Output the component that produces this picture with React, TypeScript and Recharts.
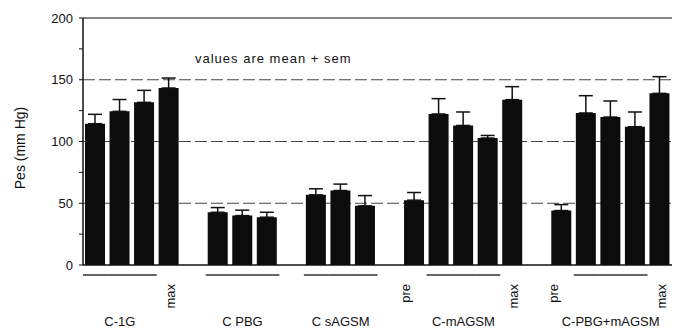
import React from 'react';
import { BarChart, Bar, XAxis, YAxis, CartesianGrid, ErrorBar, ReferenceLine, Customized } from 'recharts';

const groups = ['C-1G', 'C PBG', 'C sAGSM', 'C-mAGSM', 'C-PBG+mAGSM'];
const kinds = [
  ['1', '2', '3', 'max'],
  ['1', '2', '3'],
  ['1', '2', '3'],
  ['pre', '1', '2', '3', 'max'],
  ['pre', '1', '2', '3', 'max'],
];
const means = [
  [114.4, 124.4, 131.7, 143.3],
  [42.7, 40.0, 38.7],
  [56.8, 60.3, 47.9],
  [52.5, 122.3, 113.0, 102.8, 133.9],
  [44.1, 123.1, 119.8, 112.0, 139.0],
];
const sems = [
  [7.6, 9.6, 9.7, 8.1],
  [3.8, 4.4, 4.0],
  [4.9, 5.2, 8.3],
  [6.2, 12.4, 10.9, 2.1, 10.5],
  [4.8, 14.0, 13.0, 11.9, 13.5],
];
const yTicks = [0, 25, 50, 75, 100, 125, 150, 175, 200];

type Row = { key: string; group: string; kind: string; value: number | null; err: number[] | null };

const rows: Row[] = [];
groups.forEach((g, gi) => {
  kinds[gi].forEach((k, ki) => {
    rows.push({ key: `${g}-${k}`, group: g, kind: k, value: means[gi][ki], err: [0, sems[gi][ki]] });
  });
  if (gi < groups.length - 1) rows.push({ key: `gap-${gi}`, group: '', kind: 'gap', value: null, err: null });
});

const FONT = '"Liberation Sans", Arial, Helvetica, sans-serif';
const INK = '#111';

const XTick = (props: any) => {
  const { x, y, payload } = props;
  const row = rows[payload.index];
  if (!row || row.kind === 'gap') return null;
  const half = 12.3;
  return (
    <g>
      {['1', '2', '3'].includes(row.kind) && (
        <line x1={x - half} x2={x + half} y1={y + 10} y2={y + 10} stroke={INK} strokeWidth={1.3} />
      )}
      {row.kind === '2' && (
        <text x={x} y={y + 61} textAnchor="middle" fontFamily={FONT} fontSize={13} fill={INK}>
          {row.group}
        </text>
      )}
      {(row.kind === 'pre' || row.kind === 'max') && (
        <text
          x={row.kind === 'max' ? x + 6 : x - 4}
          y={y + 19}
          textAnchor="end"
          transform={`rotate(-90 ${row.kind === 'max' ? x + 6 : x - 4} ${y + 19})`}
          fontFamily={FONT}
          fontSize={13}
          fill={INK}
        >
          {row.kind}
        </text>
      )}
    </g>
  );
};

const YTick = (props: any) => {
  const { x, y, payload } = props;
  if (payload.value % 50 !== 0) return null;
  return (
    <text x={x} y={y + 4.5} textAnchor="end" fontFamily={FONT} fontSize={13} fill={INK}>
      {payload.value}
    </text>
  );
};

export default function App() {
  return (
    <div style={{ position: 'absolute', left: 0, top: 0, background: '#fff' }}>
      <BarChart width={685} height={330} data={rows} margin={{ top: 18, right: 13, left: 0, bottom: 0 }}>
        <CartesianGrid horizontal vertical={false} stroke="#444" strokeDasharray="12 4" horizontalValues={[50, 100, 150]} />
        <ReferenceLine y={200} stroke={INK} strokeWidth={1.2} />
        <XAxis
          dataKey="key"
          interval={0}
          tickLine={false}
          tickSize={0}
          tickMargin={0}
          height={65}
          axisLine={{ stroke: INK, strokeWidth: 1.5 }}
          tick={<XTick />}
        />
        <YAxis
          yAxisId="right"
          orientation="right"
          width={0}
          domain={[0, 200]}
          tick={false}
          tickLine={false}
          axisLine={{ stroke: INK, strokeWidth: 1.2 }}
        />
        <YAxis
          domain={[0, 200]}
          ticks={yTicks}
          width={83}
          tickSize={4}
          tickMargin={6}
          tickLine={{ stroke: INK }}
          axisLine={{ stroke: INK, strokeWidth: 1.5 }}
          tick={<YTick />}
        />
        <Bar dataKey="value" fill="#0c0c0c" barSize={20} isAnimationActive={false}>
          <ErrorBar dataKey="err" direction="y" width={7} stroke={INK} strokeWidth={1.5} />
        </Bar>
        <Customized
          component={() => (
            <g>
              <text x={195} y={63} fontFamily={FONT} fontSize={13} letterSpacing={1} fill={INK}>
                values are mean + sem
              </text>
              <text
                x={25}
                y={148}
                textAnchor="middle"
                transform="rotate(-90 25 148)"
                fontFamily={FONT}
                fontSize={14}
                fill={INK}
              >
                Pes (mm Hg)
              </text>
            </g>
          )}
        />
      </BarChart>
    </div>
  );
}
